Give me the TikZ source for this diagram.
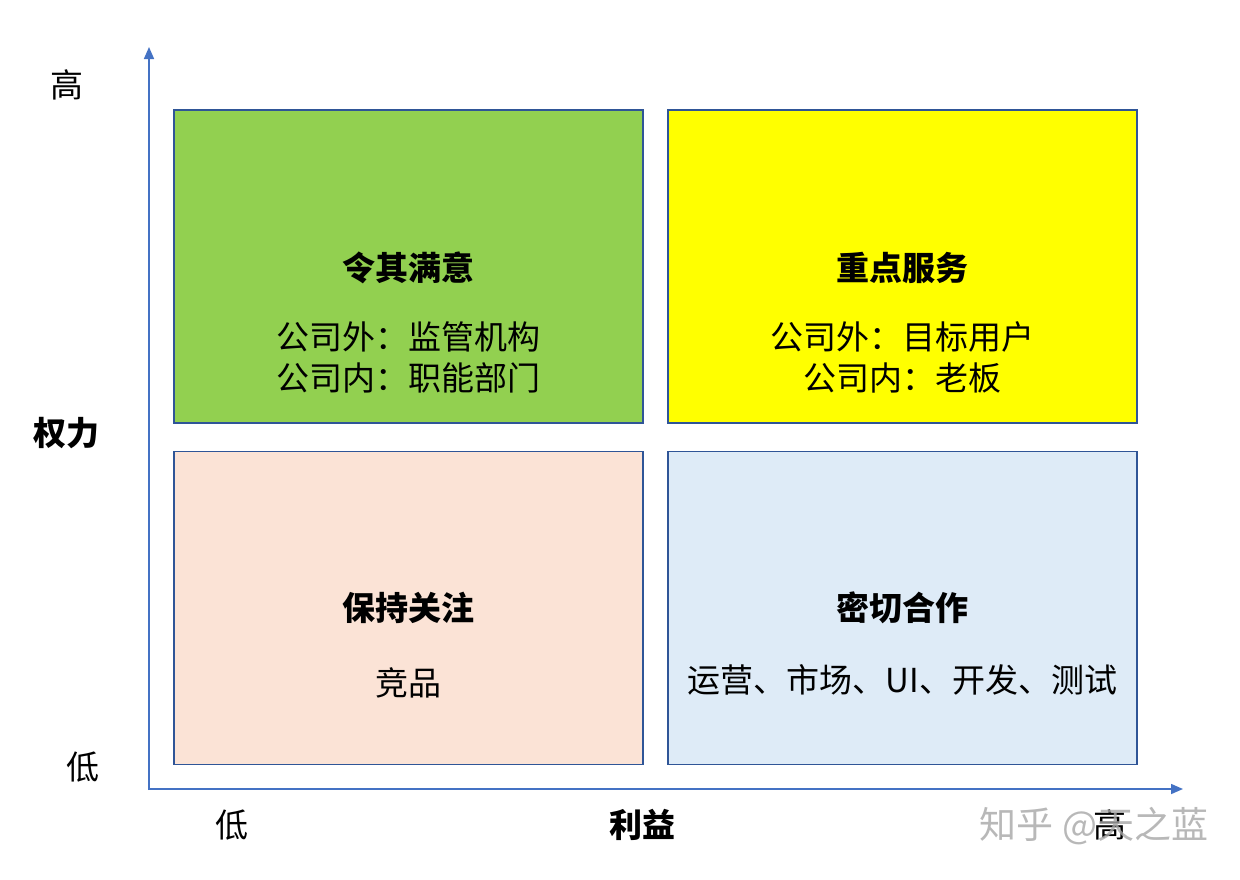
\documentclass[tikz,border=0pt]{standalone}
\usepackage{fontspec}
\setmainfont{Noto Sans CJK SC}
\usetikzlibrary{arrows.meta}
\definecolor{axisblue}{RGB}{68,114,196}
\definecolor{edgeblue}{RGB}{47,85,151}
\definecolor{quadgreen}{RGB}{146,208,80}
\definecolor{quadyellow}{RGB}{255,255,0}
\definecolor{quadpeach}{RGB}{251,227,214}
\definecolor{quadblue}{RGB}{222,235,247}

\begin{document}
\begin{tikzpicture}[
      x=1pt,y=-1pt,
      quad/.style={draw=edgeblue,line width=1.6pt,minimum width=469pt,minimum height=313pt,inner sep=0pt},
      title/.style={font=\fontsize{33}{40}\selectfont\bfseries},
      body/.style={font=\fontsize{33}{41}\selectfont,align=center},
      axislabel/.style={font=\fontsize{33}{40}\selectfont},
      axis/.style={axisblue,line width=1.6pt,-{Triangle[length=12pt,width=10pt]}}
    ]
    \useasboundingbox (0,0) rectangle (1240,879);
    % Draw the quadrants.
    \node[quad,fill=quadgreen] (powerful) at (408.5,266.5) {};
    \node[quad,fill=quadyellow] (key) at (902.5,266.5) {};
    \node[quad,fill=quadpeach] (watch) at (408.5,608) {};
    \node[quad,fill=quadblue] (close) at (902.5,608) {};
    % Draw the quadrant texts.
    \node[title] (powerfulT) at (408.5,268) {令其满意};
    \node[body] (powerfulB) at (408.5,357.5) {公司外：监管机构\\公司内：职能部门};
    \node[title] (keyT) at (902.5,268) {重点服务};
    \node[body] (keyB) at (902.5,357.5) {公司外：目标用户\\公司内：老板};
    \node[title] (watchT) at (408.5,608) {保持关注};
    \node[body] (watchB) at (408.5,683) {竞品};
    \node[title] (closeT) at (902.5,608) {密切合作};
    \node[body] (closeB) at (902.5,680) {运营、市场、UI、开发、测试};
    % Draw the axes.
    \coordinate (origin) at (149,790);
    \coordinate (ytop) at (149,47);
    \coordinate (xend) at (1183,789);
    \draw[axis] (origin) -- (ytop);
    \draw[axis] (148,789) -- (xend);
    % Draw the axis labels.
    \node[axislabel] (yhigh) at (67,85) {高};
    \node[axislabel,font=\fontsize{33}{40}\selectfont\bfseries] (ylabel) at (67,433) {权力};
    \node[axislabel] (ylow) at (83,767) {低};
    \node[axislabel] (xlow) at (232,825) {低};
    \node[axislabel,font=\fontsize{33}{40}\selectfont\bfseries] (xlabel) at (642,825) {利益};
    \node[axislabel] (xhigh) at (1110,825) {高};
    % Draw the watermark.
    \node[font=\fontsize{37}{40}\selectfont,text=black!35,opacity=0.8] (mark) at (1094,826) {知乎 @天之蓝};
\end{tikzpicture}
\end{document}
